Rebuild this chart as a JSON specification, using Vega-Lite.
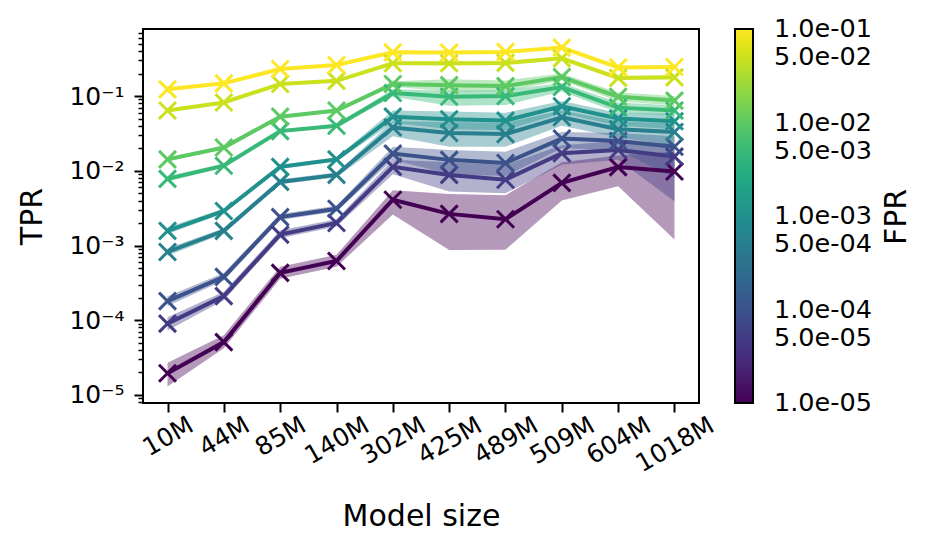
{
  "$schema": "https://vega.github.io/schema/vega-lite/v6.json",
  "width": 556,
  "height": 374,
  "autosize": "none",
  "padding": {"left": 143, "top": 29, "right": 237, "bottom": 149},
  "background": "white",
  "config": {
    "font": "DejaVu Sans",
    "view": {"stroke": "black", "strokeWidth": 2},
    "axis": {"domain": false, "grid": false, "labelFont": "DejaVu Sans", "titleFont": "DejaVu Sans", "labelColor": "black", "titleColor": "black", "tickColor": "black", "labelFontSize": 25, "titleFontSize": 30, "titleFontWeight": "normal"},
    "legend": {"gradientLength": 374, "gradientThickness": 18, "gradientStrokeColor": "black", "gradientStrokeWidth": 2, "labelFont": "DejaVu Sans", "labelColor": "black", "titleFontWeight": "normal", "titleFont": "DejaVu Sans", "titleColor": "black"}
  },
  "resolve": {"legend": {"color": "independent"}},
  "data": {"values": [
    {"s":"10M","fpr":0.00001,"tpr":1.95e-5,"lo":1.3e-5,"hi":2.7e-5},
    {"s":"44M","fpr":0.00001,"tpr":5.1e-5,"lo":4.2e-5,"hi":6.3e-5},
    {"s":"85M","fpr":0.00001,"tpr":4.3e-4,"lo":3.6e-4,"hi":5.2e-4},
    {"s":"140M","fpr":0.00001,"tpr":6.2e-4,"lo":5.2e-4,"hi":7.5e-4},
    {"s":"302M","fpr":0.00001,"tpr":4.1e-3,"lo":2.6e-3,"hi":5.5e-3},
    {"s":"425M","fpr":0.00001,"tpr":2.65e-3,"lo":8.7e-4,"hi":4.9e-3},
    {"s":"489M","fpr":0.00001,"tpr":2.25e-3,"lo":8.8e-4,"hi":4.7e-3},
    {"s":"509M","fpr":0.00001,"tpr":6.9e-3,"lo":4.0e-3,"hi":1.3e-2},
    {"s":"604M","fpr":0.00001,"tpr":1.12e-2,"lo":6.2e-3,"hi":1.6e-2},
    {"s":"1018M","fpr":0.00001,"tpr":9.8e-3,"lo":1.2e-3,"hi":1.8e-2},

    {"s":"10M","fpr":0.00005,"tpr":9.0e-5,"lo":7.3e-5,"hi":1.1e-4},
    {"s":"44M","fpr":0.00005,"tpr":2.1e-4,"lo":1.85e-4,"hi":2.4e-4},
    {"s":"85M","fpr":0.00005,"tpr":1.4e-3,"lo":1.25e-3,"hi":1.6e-3},
    {"s":"140M","fpr":0.00005,"tpr":2.0e-3,"lo":1.8e-3,"hi":2.25e-3},
    {"s":"302M","fpr":0.00005,"tpr":1.13e-2,"lo":9.0e-3,"hi":1.4e-2},
    {"s":"425M","fpr":0.00005,"tpr":8.8e-3,"lo":5.3e-3,"hi":1.3e-2},
    {"s":"489M","fpr":0.00005,"tpr":7.6e-3,"lo":5.0e-3,"hi":1.2e-2},
    {"s":"509M","fpr":0.00005,"tpr":1.72e-2,"lo":1.2e-2,"hi":2.2e-2},
    {"s":"604M","fpr":0.00005,"tpr":1.9e-2,"lo":1.4e-2,"hi":2.5e-2},
    {"s":"1018M","fpr":0.00005,"tpr":1.55e-2,"lo":3.9e-3,"hi":2.3e-2},

    {"s":"10M","fpr":0.0001,"tpr":1.8e-4,"lo":1.55e-4,"hi":2.1e-4},
    {"s":"44M","fpr":0.0001,"tpr":3.8e-4,"lo":3.4e-4,"hi":4.3e-4},
    {"s":"85M","fpr":0.0001,"tpr":2.4e-3,"lo":2.2e-3,"hi":2.65e-3},
    {"s":"140M","fpr":0.0001,"tpr":3.1e-3,"lo":2.85e-3,"hi":3.4e-3},
    {"s":"302M","fpr":0.0001,"tpr":1.7e-2,"lo":1.4e-2,"hi":2.1e-2},
    {"s":"425M","fpr":0.0001,"tpr":1.4e-2,"lo":9.0e-3,"hi":1.9e-2},
    {"s":"489M","fpr":0.0001,"tpr":1.27e-2,"lo":8.5e-3,"hi":1.8e-2},
    {"s":"509M","fpr":0.0001,"tpr":2.7e-2,"lo":2.0e-2,"hi":3.3e-2},
    {"s":"604M","fpr":0.0001,"tpr":2.5e-2,"lo":1.9e-2,"hi":3.2e-2},
    {"s":"1018M","fpr":0.0001,"tpr":2.1e-2,"lo":8.0e-3,"hi":2.9e-2},

    {"s":"10M","fpr":0.0005,"tpr":8.2e-4,"lo":7.3e-4,"hi":9.2e-4},
    {"s":"44M","fpr":0.0005,"tpr":1.57e-3,"lo":1.45e-3,"hi":1.7e-3},
    {"s":"85M","fpr":0.0005,"tpr":7.1e-3,"lo":6.6e-3,"hi":7.7e-3},
    {"s":"140M","fpr":0.0005,"tpr":8.8e-3,"lo":8.2e-3,"hi":9.5e-3},
    {"s":"302M","fpr":0.0005,"tpr":3.8e-2,"lo":2.9e-2,"hi":4.6e-2},
    {"s":"425M","fpr":0.0005,"tpr":3.2e-2,"lo":2.1e-2,"hi":4.5e-2},
    {"s":"489M","fpr":0.0005,"tpr":3.1e-2,"lo":2.1e-2,"hi":4.4e-2},
    {"s":"509M","fpr":0.0005,"tpr":5.2e-2,"lo":4.0e-2,"hi":6.4e-2},
    {"s":"604M","fpr":0.0005,"tpr":3.6e-2,"lo":2.8e-2,"hi":4.6e-2},
    {"s":"1018M","fpr":0.0005,"tpr":3.3e-2,"lo":2.2e-2,"hi":4.3e-2},

    {"s":"10M","fpr":0.001,"tpr":1.57e-3,"lo":1.42e-3,"hi":1.75e-3},
    {"s":"44M","fpr":0.001,"tpr":2.9e-3,"lo":2.7e-3,"hi":3.1e-3},
    {"s":"85M","fpr":0.001,"tpr":1.13e-2,"lo":1.06e-2,"hi":1.2e-2},
    {"s":"140M","fpr":0.001,"tpr":1.42e-2,"lo":1.33e-2,"hi":1.52e-2},
    {"s":"302M","fpr":0.001,"tpr":5.3e-2,"lo":4.4e-2,"hi":6.4e-2},
    {"s":"425M","fpr":0.001,"tpr":4.9e-2,"lo":3.6e-2,"hi":6.2e-2},
    {"s":"489M","fpr":0.001,"tpr":4.7e-2,"lo":3.5e-2,"hi":6.0e-2},
    {"s":"509M","fpr":0.001,"tpr":7.3e-2,"lo":5.9e-2,"hi":8.6e-2},
    {"s":"604M","fpr":0.001,"tpr":5.0e-2,"lo":4.0e-2,"hi":6.0e-2},
    {"s":"1018M","fpr":0.001,"tpr":4.6e-2,"lo":3.6e-2,"hi":5.8e-2},

    {"s":"10M","fpr":0.005,"tpr":7.8e-3,"lo":7.2e-3,"hi":8.5e-3},
    {"s":"44M","fpr":0.005,"tpr":1.17e-2,"lo":1.1e-2,"hi":1.25e-2},
    {"s":"85M","fpr":0.005,"tpr":3.4e-2,"lo":3.25e-2,"hi":3.6e-2},
    {"s":"140M","fpr":0.005,"tpr":4.0e-2,"lo":3.8e-2,"hi":4.2e-2},
    {"s":"302M","fpr":0.005,"tpr":1.1e-1,"lo":9.8e-2,"hi":1.23e-1},
    {"s":"425M","fpr":0.005,"tpr":9.8e-2,"lo":7.4e-2,"hi":1.18e-1},
    {"s":"489M","fpr":0.005,"tpr":1.0e-1,"lo":7.6e-2,"hi":1.2e-1},
    {"s":"509M","fpr":0.005,"tpr":1.32e-1,"lo":1.15e-1,"hi":1.5e-1},
    {"s":"604M","fpr":0.005,"tpr":7.0e-2,"lo":6.0e-2,"hi":8.2e-2},
    {"s":"1018M","fpr":0.005,"tpr":6.4e-2,"lo":5.5e-2,"hi":7.5e-2},

    {"s":"10M","fpr":0.01,"tpr":1.42e-2,"lo":1.33e-2,"hi":1.52e-2},
    {"s":"44M","fpr":0.01,"tpr":2.05e-2,"lo":1.95e-2,"hi":2.15e-2},
    {"s":"85M","fpr":0.01,"tpr":5.3e-2,"lo":5.1e-2,"hi":5.5e-2},
    {"s":"140M","fpr":0.01,"tpr":6.4e-2,"lo":6.1e-2,"hi":6.7e-2},
    {"s":"302M","fpr":0.01,"tpr":1.45e-1,"lo":1.33e-1,"hi":1.58e-1},
    {"s":"425M","fpr":0.01,"tpr":1.4e-1,"lo":1.15e-1,"hi":1.68e-1},
    {"s":"489M","fpr":0.01,"tpr":1.36e-1,"lo":1.15e-1,"hi":1.62e-1},
    {"s":"509M","fpr":0.01,"tpr":1.8e-1,"lo":1.62e-1,"hi":2.0e-1},
    {"s":"604M","fpr":0.01,"tpr":9.8e-2,"lo":8.5e-2,"hi":1.12e-1},
    {"s":"1018M","fpr":0.01,"tpr":8.7e-2,"lo":7.5e-2,"hi":1.0e-1},

    {"s":"10M","fpr":0.05,"tpr":6.4e-2,"lo":6.1e-2,"hi":6.7e-2},
    {"s":"44M","fpr":0.05,"tpr":8.2e-2,"lo":7.9e-2,"hi":8.5e-2},
    {"s":"85M","fpr":0.05,"tpr":1.45e-1,"lo":1.41e-1,"hi":1.5e-1},
    {"s":"140M","fpr":0.05,"tpr":1.6e-1,"lo":1.55e-1,"hi":1.65e-1},
    {"s":"302M","fpr":0.05,"tpr":2.75e-1,"lo":2.62e-1,"hi":2.88e-1},
    {"s":"425M","fpr":0.05,"tpr":2.75e-1,"lo":2.55e-1,"hi":2.95e-1},
    {"s":"489M","fpr":0.05,"tpr":2.78e-1,"lo":2.6e-1,"hi":2.98e-1},
    {"s":"509M","fpr":0.05,"tpr":3.2e-1,"lo":3.02e-1,"hi":3.4e-1},
    {"s":"604M","fpr":0.05,"tpr":1.75e-1,"lo":1.65e-1,"hi":1.86e-1},
    {"s":"1018M","fpr":0.05,"tpr":1.78e-1,"lo":1.67e-1,"hi":1.9e-1},

    {"s":"10M","fpr":0.1,"tpr":1.23e-1,"lo":1.19e-1,"hi":1.27e-1},
    {"s":"44M","fpr":0.1,"tpr":1.48e-1,"lo":1.44e-1,"hi":1.52e-1},
    {"s":"85M","fpr":0.1,"tpr":2.3e-1,"lo":2.25e-1,"hi":2.35e-1},
    {"s":"140M","fpr":0.1,"tpr":2.6e-1,"lo":2.54e-1,"hi":2.66e-1},
    {"s":"302M","fpr":0.1,"tpr":3.85e-1,"lo":3.72e-1,"hi":3.98e-1},
    {"s":"425M","fpr":0.1,"tpr":3.82e-1,"lo":3.65e-1,"hi":4.0e-1},
    {"s":"489M","fpr":0.1,"tpr":3.9e-1,"lo":3.74e-1,"hi":4.07e-1},
    {"s":"509M","fpr":0.1,"tpr":4.45e-1,"lo":4.28e-1,"hi":4.62e-1},
    {"s":"604M","fpr":0.1,"tpr":2.42e-1,"lo":2.32e-1,"hi":2.52e-1},
    {"s":"1018M","fpr":0.1,"tpr":2.45e-1,"lo":2.35e-1,"hi":2.55e-1}
  ]},
  "encoding": {
    "x": {
      "field": "s", "type": "ordinal", "title": "Model size",
      "scale": {"type": "point", "padding": 0.435, "domain": ["10M","44M","85M","140M","302M","425M","489M","509M","604M","1018M"]},
      "axis": {"labelAngle": -30, "labelAlign": "center", "labelBaseline": "middle", "tickSize": 9, "tickWidth": 2,
        "labelPadding": {"condition": [{"test": "length(datum.label) >= 5", "value": 32}, {"test": "length(datum.label) == 4", "value": 28}], "value": 24},
        "titlePadding": 25}
    },
    "detail": {"field": "fpr", "type": "nominal"}
  },
  "layer": [
    {
      "mark": {"type": "area", "opacity": 0.4},
      "encoding": {
        "color": {"field": "fpr", "type": "quantitative", "scale": {"type": "log", "scheme": "viridis", "domain": [0.00001, 0.1]}, "legend": null},
        "y": {"field": "lo", "type": "quantitative", "title": "TPR",
          "scale": {"type": "log", "domain": [0.0000078, 0.79], "nice": false},
          "axis": {
            "values": [0.000008, 0.000009, 0.00001, 0.00002, 0.00003, 0.00004, 0.00005, 0.00006, 0.00007, 0.00008, 0.00009, 0.0001, 0.0002, 0.0003, 0.0004, 0.0005, 0.0006, 0.0007, 0.0008, 0.0009, 0.001, 0.002, 0.003, 0.004, 0.005, 0.006, 0.007, 0.008, 0.009, 0.01, 0.02, 0.03, 0.04, 0.05, 0.06, 0.07, 0.08, 0.09, 0.1, 0.2, 0.3, 0.4, 0.5, 0.6, 0.7],
            "labelExpr": "datum.value === 0.1 ? '10⁻¹' : datum.value === 0.01 ? '10⁻²' : datum.value === 0.001 ? '10⁻³' : datum.value === 0.0001 ? '10⁻⁴' : datum.value === 0.00001 ? '10⁻⁵' : ''",
            "tickSize": {"condition": {"test": "indexof([0.1, 0.01, 0.001, 0.0001, 0.00001], datum.value) >= 0", "value": 9}, "value": 5},
            "tickWidth": {"condition": {"test": "indexof([0.1, 0.01, 0.001, 0.0001, 0.00001], datum.value) >= 0", "value": 2}, "value": 1.5},
            "labelPadding": 10,
            "labelOverlap": false,
            "titleX": -111, "titleY": 187, "titleAngle": 270, "titleBaseline": "middle", "titleAlign": "center"
          }
        },
        "y2": {"field": "hi"}
      }
    },
    {
      "mark": {"type": "line", "strokeWidth": 4},
      "encoding": {
        "color": {"field": "fpr", "type": "quantitative", "title": "FPR",
          "scale": {"type": "log", "scheme": "viridis", "domain": [0.00001, 0.1]},
          "legend": {"orient": "none", "legendX": 592, "legendY": 0, "direction": "vertical", "type": "gradient",
            "values": [0.00001, 0.00005, 0.0001, 0.0005, 0.001, 0.005, 0.01, 0.05, 0.1],
            "labelExpr": "replace(format(datum.value, '.1e'), 'e-', 'e-0')",
            "labelFontSize": 25.5, "labelOffset": 21, "labelOverlap": false, "labelAlign": "left",
            "titleFontSize": 30, "titleOrient": "right", "titleAnchor": "middle", "titleBaseline": "top", "titlePadding": 10,
            "encode": {
              "labels": {"update": {"baseline": {"value": "middle"}}},
              "title": {"update": {"angle": {"value": 270}}}
            }}},
        "y": {"field": "tpr", "type": "quantitative", "title": "TPR"}
      }
    },
    {
      "mark": {"type": "point", "shape": "M-1,-1L1,1M-1,1L1,-1", "filled": false, "size": 289, "strokeWidth": 3, "opacity": 1},
      "encoding": {
        "color": {"field": "fpr", "type": "quantitative", "scale": {"type": "log", "scheme": "viridis", "domain": [0.00001, 0.1]}, "legend": null},
        "y": {"field": "tpr", "type": "quantitative", "title": "TPR"}
      }
    }
  ]
}
